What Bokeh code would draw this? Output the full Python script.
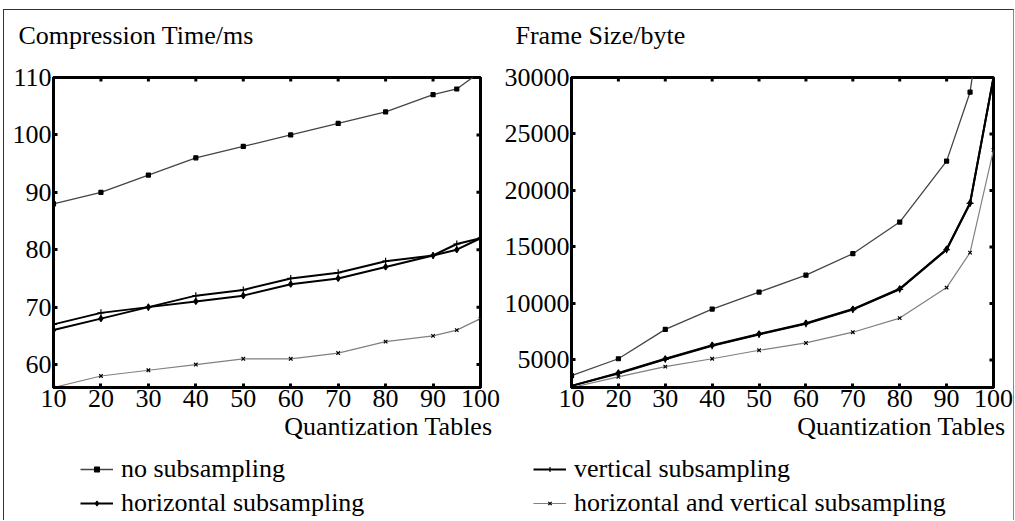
import math
from bokeh.plotting import figure
from bokeh.layouts import row, column
from bokeh.models import FixedTicker, Range1d, Title, Legend, LegendItem
from bokeh.embed import file_html
from bokeh.resources import INLINE

FONT = "Liberation Serif"
FS = "26px"

# ---- data ----
quant = [10, 20, 30, 40, 50, 60, 70, 80, 90, 95, 100]
x_ticks = [10, 20, 30, 40, 50, 60, 70, 80, 90, 100]
time_ticks = [60, 70, 80, 90, 100, 110]
size_ticks = [5000, 10000, 15000, 20000, 25000, 30000]

time_none = [88, 90, 93, 96, 98, 100, 102, 104, 107, 108, 111]
time_vert = [67, 69, 70, 72, 73, 75, 76, 78, 79, 81, 82]
time_horiz = [66, 68, 70, 71, 72, 74, 75, 77, 79, 80, 82]
time_hv = [56, 58, 59, 60, 61, 61, 62, 64, 65, 66, 68]

size_none = [3600, 5100, 7700, 9500, 11000, 12500, 14400, 17200, 22600, 28700, 43000]
size_horiz = [2700, 3850, 5100, 6300, 7300, 8250, 9500, 11300, 14800, 18900, 30000]
size_vert = [2700, 3800, 5050, 6250, 7250, 8200, 9450, 11250, 14750, 18850, 30000]
size_hv = [2555, 3500, 4400, 5100, 5850, 6500, 7450, 8700, 11400, 14500, 23600]

names = ["no subsampling", "horizontal subsampling", "vertical subsampling",
         "horizontal and vertical subsampling"]
titles = ["Compression Time/ms", "Frame Size/byte"]
x_label = "Quantization Tables"

SPECS = [  # colour, width, marker, size
    ("#444444", 1.3, "square", 4),
    ("black", 2, "diamond", 6),
    ("black", 2, "cross", 7),
    ("#808080", 1.2, "x", 5),
]


def style_axis(ax, ticks, standoff):
    ax.ticker = FixedTicker(ticks=ticks)
    ax.axis_line_width = 3
    ax.axis_line_color = "black"
    ax.major_tick_in = 4
    ax.major_tick_out = 0
    ax.major_tick_line_width = 3
    ax.minor_tick_line_color = None
    ax.major_label_text_font = FONT
    ax.major_label_text_color = "black"
    ax.major_label_text_font_size = FS
    ax.major_label_standoff = standoff


def make_fig(x0, x1, y0, y1, yticks, width, left, right, title, toff):
    p = figure(width=width, height=431, x_range=Range1d(x0, x1), y_range=Range1d(y0, y1),
               output_backend="svg", toolbar_location=None,
               min_border_left=left, min_border_right=right,
               min_border_top=66, min_border_bottom=54)
    p.grid.visible = False
    p.outline_line_color = "black"
    p.outline_line_width = 3
    p.title.text = title
    p.title.align = "left"
    p.title.vertical_align = "bottom"
    p.title.offset = toff
    p.title.text_font = FONT
    p.title.text_font_size = FS
    p.title.text_font_style = "normal"
    p.title.text_color = "black"
    p.title.standoff = 0
    p.title.padding = dict(left=0, right=0, top=8, bottom=28)
    style_axis(p.xaxis[0], x_ticks, 2)
    style_axis(p.yaxis[0], yticks, 2)
    # inward tick marks on the top and right edges
    p.ray(x=x_ticks, y=[y1] * len(x_ticks), length=4, length_units="screen",
          angle=-math.pi / 2, line_color="black", line_width=3)
    p.ray(x=[x1] * len(yticks), y=yticks, length=4, length_units="screen",
          angle=math.pi, line_color="black", line_width=3)
    p.add_layout(Title(text=x_label, align="right", offset=-12, text_font=FONT,
                       text_font_size=FS, text_font_style="normal", text_color="black",
                       standoff=0), "below")
    return p


def add_series(p, ys):
    out = []
    for y, (col, w, mk, sz) in zip(ys, SPECS):
        l = p.line(quant, y, line_color=col, line_width=w)
        s = p.scatter(quant, y, marker=mk, size=sz, fill_color="black",
                      line_color="black", line_width=1.2)
        out.append([l, s])
    return out


p1 = make_fig(10, 100, 56, 110, time_ticks, 496, 49, 20, titles[0], -35)
add_series(p1, [time_none, time_horiz, time_vert, time_hv])
p2 = make_fig(10, 100, 2555, 30000, size_ticks, 513, 71, 20, titles[1], -56)
add_series(p2, [size_none, size_horiz, size_vert, size_hv])

# legend strip: same series, legend only (data lies outside this strip's view)
p3 = figure(width=1009, height=79, x_range=Range1d(0, 1), y_range=Range1d(0, 1),
            output_backend="svg", toolbar_location=None, min_border=0,
            x_axis_location=None, y_axis_location=None)
p3.grid.visible = False
p3.outline_line_color = None
r3 = add_series(p3, [time_none, time_horiz, time_vert, time_hv])


def make_legend(items, loc):
    return Legend(items=items, location=loc, label_text_font=FONT, label_text_font_size=FS,
                  label_text_color="black",
                  glyph_width=33, glyph_height=12, label_height=26, spacing=4, padding=0,
                  margin=0, border_line_color=None, background_fill_alpha=0,
                  label_standoff=8)


p3.add_layout(make_legend([LegendItem(label=names[0], renderers=r3[0]),
                           LegendItem(label=names[1], renderers=r3[1])], (76, 2)))
p3.add_layout(make_legend([LegendItem(label=names[2], renderers=r3[2]),
                           LegendItem(label=names[3], renderers=r3[3])], (529, 2)))

layout = column(row(p1, p2), p3, margin=(9, 0, 0, 3),
                styles={"border-top": "1px solid #333", "border-left": "1px solid #333",
                        "border-right": "1px solid #888"})

open("out.html", "w").write(file_html(layout, INLINE))
